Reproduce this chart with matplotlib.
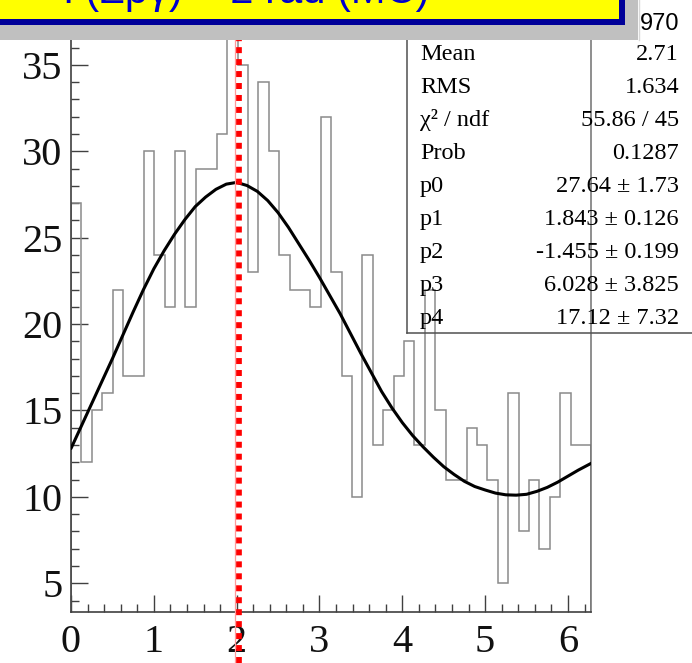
import numpy as np
import matplotlib
matplotlib.use("Agg")
import matplotlib.pyplot as plt
from matplotlib.patches import Rectangle
from matplotlib.lines import Line2D
from matplotlib.ticker import MultipleLocator
from matplotlib.transforms import blended_transform_factory, offset_copy

# ---------------- data ----------------
counts = [27, 12, 15, 16, 22, 17, 17, 30, 24, 21, 30, 21, 29, 29, 31, 39,
          35, 23, 34, 30, 24, 22, 22, 21, 32, 23, 17, 10, 24, 13, 15, 17, 19, 13,
          22, 15, 11, 11, 14, 13, 11, 5, 16, 8, 11, 7, 10, 16, 13, 13]
n_bins = 50
x_min, x_max = 0.0, 2 * np.pi

fit_x = [0.0, 0.125, 0.25, 0.375, 0.5, 0.625, 0.75, 0.875, 1.0, 1.125, 1.25,
         1.375, 1.5, 1.625, 1.75, 1.875, 2.0, 2.125, 2.25, 2.375, 2.5, 2.625,
         2.75, 2.875, 3.0, 3.125, 3.25, 3.375, 3.5, 3.625, 3.75, 3.875, 4.0,
         4.125, 4.25, 4.375, 4.5, 4.625, 4.75, 4.875, 5.0, 5.125, 5.25, 5.375,
         5.5, 5.625, 5.75, 5.875, 6.0, 6.125, 6.283]
fit_y = [12.8, 14.1, 15.4, 16.7, 18.0, 19.35, 20.7, 22.0, 23.2, 24.25, 25.2,
         26.05, 26.8, 27.35, 27.8, 28.1, 28.2, 28.02, 27.68, 27.15, 26.45, 25.6,
         24.65, 23.7, 22.7, 21.65, 20.6, 19.45, 18.3, 17.2, 16.1, 15.15, 14.3,
         13.55, 12.9, 12.3, 11.75, 11.3, 10.9, 10.6, 10.4, 10.22, 10.12, 10.1,
         10.15, 10.32, 10.55, 10.85, 11.2, 11.55, 11.95]

true_value = 2.0

x_ticks = [0, 1, 2, 3, 4, 5, 6]
y_ticks = [5, 10, 15, 20, 25, 30, 35]

stat_labels = ["Entries", "Mean", "RMS", "\u03c7\u00b2 / ndf", "Prob",
               "p0", "p1", "p2", "p3", "p4"]
stat_values = ["970", "2.71", "1.634", "55.86 / 45", "0.1287",
               "27.64 \u00b1 1.73", "1.843 \u00b1 0.126", "-1.455 \u00b1 0.199",
               "6.028 \u00b1 3.825", "17.12 \u00b1 7.32"]

title = "\u03a6(\u03a3p\u03b3) = 2 rad (MC)"

# ---------------- figure ----------------
W, H = 692, 663
fig = plt.figure(figsize=(W / 100, H / 100), dpi=100)
fig.patch.set_facecolor("white")


def fx(px):
    return px / W


def fy(py):
    return 1 - py / H


SERIF = ["Liberation Serif", "DejaVu Serif"]
SANS = ["Liberation Sans", "DejaVu Sans"]

ax_left, ax_right, ax_top, ax_bot = 71, 591.4, 30, 611.7
ax = fig.add_axes([fx(ax_left), fy(ax_bot), fx(ax_right) - fx(ax_left), fy(ax_top) - fy(ax_bot)])
ax.set_xlim(x_min, x_max)
ax.set_ylim(3.356, 37.02)
ax.set_facecolor("white")

edges = np.linspace(x_min, x_max, n_bins + 1)
ax.stairs(counts, edges, baseline=0, color="#8a8a8a", lw=1.1, zorder=2)
ax.plot(fit_x, fit_y, color="black", lw=2.2, zorder=3, solid_capstyle="round",
        solid_joinstyle="round")

# red marker line at the true value, spanning the whole figure height
trans = blended_transform_factory(ax.transData, fig.transFigure)
t_thin = offset_copy(trans, fig=fig, x=-1.5, y=0, units="dots")
t_dot = offset_copy(trans, fig=fig, x=2.0, y=0, units="dots")
ax.add_line(Line2D([true_value, true_value], [0, 1], transform=t_thin, color="#ff9a9a",
                   lw=0.9, clip_on=False, zorder=9))
ax.add_line(Line2D([true_value, true_value], [0, 1], transform=t_dot, color="#ff0000",
                   lw=4.1, linestyle=(0, (1.05, 1.05)), dash_capstyle="butt",
                   clip_on=False, zorder=10))

ax.set_xticks(x_ticks)
ax.set_yticks(y_ticks)
ax.xaxis.set_minor_locator(MultipleLocator(0.2))
ax.yaxis.set_minor_locator(MultipleLocator(1))
ax.tick_params(which="both", direction="in", top=False, right=False,
               color="#404040", width=1.0)
ax.tick_params(which="major", length=12.2)
ax.tick_params(which="minor", length=6.1)
ax.tick_params(axis="x", pad=9)
ax.tick_params(axis="y", pad=6)
for lab in ax.get_xticklabels() + ax.get_yticklabels():
    lab.set_fontfamily(SERIF)
    lab.set_fontsize(29)
    lab.set_color("#111111")

for side in ["left", "bottom"]:
    ax.spines[side].set_color("#404040")
    ax.spines[side].set_linewidth(1.2)
ax.spines["right"].set_color("#707070")
ax.spines["right"].set_linewidth(1.1)
ax.spines["top"].set_color("#707070")

# ---------------- stats box ----------------
fig.add_artist(Line2D([fx(407), fx(407)], [fy(20), fy(333)], color="#505050", lw=1.1, zorder=4))
fig.add_artist(Line2D([fx(407), fx(700)], [fy(333), fy(333)], color="#505050", lw=1.1, zorder=4))

row0 = 52.5
dy = 33.05
STAT_FS = 17.5
for i, (lab, val) in enumerate(zip(stat_labels, stat_values)):
    if i == 0:
        fig.text(fx(420), fy(27), lab, ha="left", va="baseline", fontsize=STAT_FS,
                 family=SERIF, color="black", zorder=5)
        continue
    yb = row0 + (i - 1) * dy + 7.0
    fig.text(fx(420), fy(yb), lab, ha="left", va="baseline", fontsize=STAT_FS,
             family=SERIF, color="black", zorder=5)
    fig.text(fx(679), fy(yb), val, ha="right", va="baseline", fontsize=STAT_FS,
             family=SERIF, color="black", zorder=5)

# ---------------- header band & title ----------------
fig.add_artist(Rectangle((fx(0), fy(40)), fx(638), 40 / H, transform=fig.transFigure,
                         facecolor="#c0c0c0", edgecolor="none", zorder=20))
fig.add_artist(Line2D([fx(638.5), fx(638.5)], [fy(0), fy(40)], color="#d8d8d8", lw=1.0, zorder=21))
fig.add_artist(Rectangle((fx(-10), fy(25)), fx(635), 40 / H, transform=fig.transFigure,
                         facecolor="#000099", edgecolor="none", zorder=21))
fig.add_artist(Rectangle((fx(-10), fy(19)), fx(629), 40 / H, transform=fig.transFigure,
                         facecolor="#ffff00", edgecolor="none", zorder=22))
fig.text(fx(52), fy(3), title, ha="left", va="baseline", fontsize=30,
         family=SANS, color="#0000cc", zorder=23)
fig.text(fx(679), fy(30), stat_values[0], ha="right", va="baseline", fontsize=17,
         family=SANS, color="black", zorder=23)

fig.savefig("out.png", dpi=100)
